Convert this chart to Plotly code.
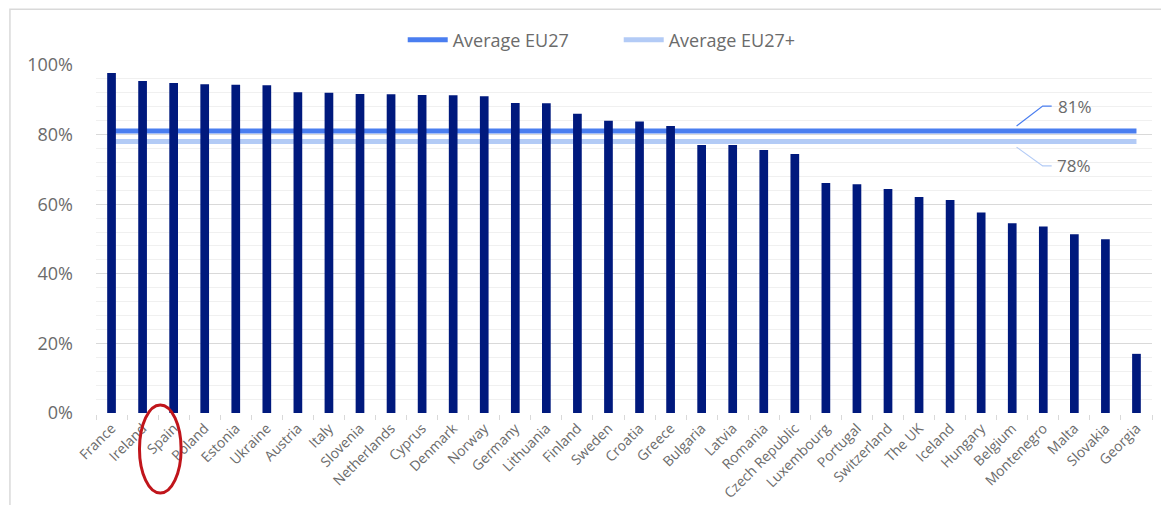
import plotly.graph_objects as go

countries = ["France", "Ireland", "Spain", "Poland", "Estonia", "Ukraine", "Austria", "Italy",
             "Slovenia", "Netherlands", "Cyprus", "Denmark", "Norway", "Germany", "Lithuania",
             "Finland", "Sweden", "Croatia", "Greece", "Bulgaria", "Latvia", "Romania",
             "Czech Republic", "Luxembourg", "Portugal", "Switzerland", "The UK", "Iceland",
             "Hungary", "Belgium", "Montenegro", "Malta", "Slovakia", "Georgia"]
values = [97.7, 95.4, 94.8, 94.5, 94.3, 94.2, 92.2, 92.0, 91.7, 91.6, 91.4, 91.3, 91.0,
          89.1, 89.0, 86.0, 84.0, 83.8, 82.5, 77.0, 77.0, 75.6, 74.4, 66.1, 65.7, 64.4,
          62.1, 61.2, 57.6, 54.5, 53.6, 51.4, 49.9, 17.0]
avg_eu27 = 81
avg_eu27_plus = 78
y_ticks = [0, 20, 40, 60, 80, 100]
y_tick_labels = [f"{v}%" for v in y_ticks]
highlight = "Spain"

FONT = "Open Sans"
GREY = "#6b6b6b"
C_EU27 = "#4a7ef0"
C_EU27P = "#b3cbf6"

fig = go.Figure()
fig.add_trace(go.Scatter(x=countries, y=[avg_eu27] * len(countries), mode="lines",
                         name="Average EU27", line=dict(color=C_EU27, width=5), zorder=0,
                         hoverinfo="skip"))
fig.add_trace(go.Scatter(x=countries, y=[avg_eu27_plus] * len(countries), mode="lines",
                         name="Average EU27+", line=dict(color=C_EU27P, width=5), zorder=0,
                         hoverinfo="skip"))
fig.add_trace(go.Bar(x=countries, y=values, marker=dict(color="#00197d", line=dict(width=0)),
                     showlegend=False, zorder=1))

# leader lines and labels for the averages
n = len(countries)
xa, xb, xc = n - 4.86, n - 4.02, n - 3.73
fig.add_shape(type="path", xref="x", yref="y",
              path=f"M {xa} {avg_eu27 + 1.5} L {xb} {avg_eu27 + 7.2} L {xc} {avg_eu27 + 7.2}",
              line=dict(color=C_EU27, width=1.2))
fig.add_shape(type="path", xref="x", yref="y",
              path=f"M {xa} {avg_eu27_plus - 1.6} L {xb} {avg_eu27_plus - 7.0} L {xc} {avg_eu27_plus - 7.0}",
              line=dict(color=C_EU27P, width=1.2))
fig.add_annotation(x=xc + 0.15, y=avg_eu27 + 7.2, text=f"{avg_eu27}%", showarrow=False,
                   xanchor="left", yanchor="middle", font=dict(family=FONT, size=17, color=GREY))
fig.add_annotation(x=xc + 0.1, y=avg_eu27_plus - 7.0, text=f"{avg_eu27_plus}%", showarrow=False,
                   xanchor="left", yanchor="middle", font=dict(family=FONT, size=17, color=GREY))

# red ellipse around highlighted label
hi = countries.index(highlight)
fig.add_shape(type="circle", xref="x", yref="paper",
              x0=hi - 1.1, x1=hi + 0.24, y0=-0.23, y1=0.023,
              line=dict(color="#c0151b", width=3))

# chart border
fig.add_shape(type="rect", xref="paper", yref="paper",
              x0=-0.0815, x1=1.05, y0=-0.4, y1=1.16,
              line=dict(color="#d9d9d9", width=1.5))

fig.update_layout(
    width=1169, height=505,
    margin=dict(l=87.5, r=24.5, t=57, b=100, autoexpand=False),
    paper_bgcolor="white", plot_bgcolor="white",
    bargap=0.72,
    font=dict(family=FONT, color=GREY),
    showlegend=True,
    legend=dict(orientation="h", x=0.495, xanchor="center", y=1.072, yanchor="middle",
                font=dict(family=FONT, size=18, color=GREY), bgcolor="rgba(0,0,0,0)",
                itemwidth=40, tracegroupgap=0, entrywidth=161),
    xaxis=dict(type="category", tickangle=-45, tickfont=dict(family=FONT, size=14, color=GREY),
               showline=True, linecolor="#d9d9d9", linewidth=1.5, automargin=False,
               ticks="outside", tickson="boundaries", ticklen=5, tickcolor="#d9d9d9",
               showgrid=False, range=[-0.5, n - 0.5]),
    yaxis=dict(range=[0, 100], tickvals=y_ticks, ticktext=y_tick_labels, automargin=False,
               tickfont=dict(family=FONT, size=18, color=GREY),
               showgrid=True, gridcolor="#d9d9d9", gridwidth=1, zeroline=False,
               ticklabelstandoff=22,
               minor=dict(dtick=4, showgrid=True, gridcolor="#f0f0f0", gridwidth=1)),
)

fig.write_html("out.html")
